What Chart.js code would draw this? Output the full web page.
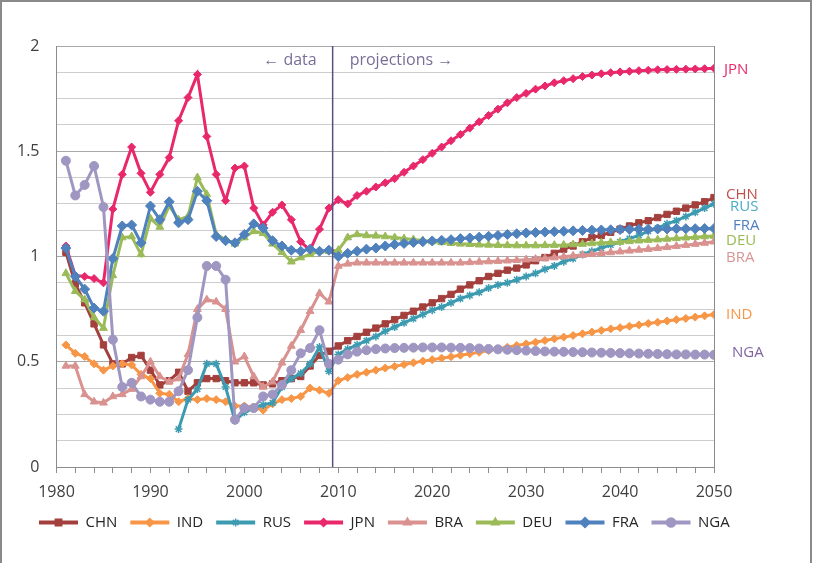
<!DOCTYPE html>
<html>
<head>
<meta charset="utf-8">
<script src="https://cdn.jsdelivr.net/npm/chart.js@4/dist/chart.umd.min.js"></script>
<style>
  body { margin: 0; background: #fff; }
</style>
</head>
<body>
<canvas id="c" width="816" height="563"></canvas>
<script>
// years 1981..2050, data up to 2009, projections after
const years = []
for (let y = 1981; y <= 2050; y++) years.push(y)

const chn = [1.02, 0.87, 0.78, 0.68, 0.58, 0.49, 0.49, 0.52, 0.53, 0.46,
  0.39, 0.41, 0.45, 0.36, 0.40, 0.42, 0.42, 0.41, 0.40, 0.40,
  0.40, 0.39, 0.395, 0.41, 0.42, 0.43, 0.48, 0.53, 0.55,
  0.575, 0.60, 0.62, 0.64, 0.66, 0.68, 0.70, 0.72, 0.74, 0.76,
  0.78, 0.80, 0.82, 0.845, 0.865, 0.885, 0.905, 0.92, 0.935, 0.945,
  0.96, 0.98, 0.995, 1.015, 1.035, 1.05, 1.07, 1.09, 1.10, 1.115,
  1.13, 1.145, 1.16, 1.17, 1.185, 1.20, 1.215, 1.23, 1.245, 1.26, 1.28]

const ind = [0.58, 0.54, 0.525, 0.49, 0.46, 0.48, 0.49, 0.485, 0.44, 0.42,
  0.35, 0.345, 0.31, 0.325, 0.32, 0.325, 0.32, 0.31, 0.29, 0.29,
  0.285, 0.27, 0.30, 0.32, 0.325, 0.335, 0.375, 0.365, 0.35,
  0.41, 0.425, 0.44, 0.45, 0.46, 0.47, 0.478, 0.487, 0.495, 0.503,
  0.51, 0.517, 0.524, 0.531, 0.538, 0.545, 0.553, 0.561, 0.569, 0.577,
  0.585, 0.593, 0.601, 0.609, 0.617, 0.625, 0.633, 0.641, 0.649, 0.656,
  0.662, 0.669, 0.675, 0.682, 0.688, 0.694, 0.70, 0.706, 0.712, 0.718, 0.724]

const rus = [null, null, null, null, null, null, null, null, null, null,
  null, null, 0.18, 0.32, 0.37, 0.49, 0.49, 0.38, 0.22, 0.26,
  0.28, 0.295, 0.305, 0.38, 0.42, 0.445, 0.49, 0.57, 0.455,
  0.535, 0.56, 0.58, 0.60, 0.62, 0.645, 0.665, 0.685, 0.705, 0.725,
  0.745, 0.76, 0.78, 0.80, 0.815, 0.83, 0.85, 0.865, 0.875, 0.89,
  0.905, 0.92, 0.94, 0.955, 0.975, 0.99, 1.01, 1.025, 1.04, 1.055,
  1.07, 1.085, 1.10, 1.12, 1.135, 1.155, 1.17, 1.19, 1.21, 1.23, 1.25]

const jpn = [1.05, 0.91, 0.905, 0.895, 0.875, 1.225, 1.39, 1.52, 1.395, 1.305,
  1.39, 1.47, 1.645, 1.755, 1.865, 1.57, 1.39, 1.265, 1.42, 1.43,
  1.23, 1.15, 1.21, 1.245, 1.175, 1.07, 1.03, 1.13, 1.23,
  1.27, 1.25, 1.29, 1.31, 1.33, 1.35, 1.37, 1.40, 1.43, 1.46,
  1.49, 1.52, 1.55, 1.58, 1.61, 1.64, 1.67, 1.70, 1.73, 1.755,
  1.775, 1.795, 1.81, 1.825, 1.835, 1.845, 1.855, 1.862, 1.868, 1.873,
  1.877, 1.88, 1.883, 1.885, 1.887, 1.888, 1.889, 1.89, 1.891, 1.892, 1.894]

const bra = [0.48, 0.48, 0.345, 0.31, 0.305, 0.335, 0.345, 0.37, 0.43, 0.50,
  0.43, 0.405, 0.42, 0.535, 0.75, 0.795, 0.785, 0.75, 0.50, 0.525,
  0.43, 0.38, 0.405, 0.495, 0.575, 0.65, 0.74, 0.825, 0.785,
  0.955, 0.965, 0.97, 0.97, 0.97, 0.97, 0.97, 0.97, 0.97, 0.97,
  0.97, 0.97, 0.97, 0.97, 0.972, 0.974, 0.976, 0.978, 0.98, 0.982,
  0.985, 0.988, 0.991, 0.995, 0.999, 1.003, 1.007, 1.011, 1.015, 1.019,
  1.023, 1.027, 1.031, 1.035, 1.039, 1.044, 1.049, 1.054, 1.059, 1.064, 1.07]

const deu = [0.92, 0.835, 0.795, 0.71, 0.66, 0.91, 1.09, 1.095, 1.01, 1.18,
  1.14, 1.24, 1.175, 1.19, 1.375, 1.295, 1.105, 1.08, 1.06, 1.09,
  1.12, 1.11, 1.06, 1.02, 0.975, 0.995, 1.01, 1.025, 1.025,
  1.03, 1.09, 1.105, 1.10, 1.098, 1.095, 1.09, 1.085, 1.081, 1.076,
  1.071, 1.067, 1.063, 1.06, 1.058, 1.056, 1.055, 1.054, 1.053, 1.052,
  1.052, 1.052, 1.053, 1.054, 1.055, 1.057, 1.059, 1.062, 1.065, 1.067,
  1.069, 1.072, 1.075, 1.078, 1.08, 1.083, 1.086, 1.089, 1.092, 1.095, 1.097]

const fra = [1.04, 0.905, 0.845, 0.755, 0.74, 0.99, 1.145, 1.15, 1.065, 1.24,
  1.175, 1.26, 1.16, 1.175, 1.31, 1.265, 1.095, 1.075, 1.065, 1.105,
  1.155, 1.135, 1.075, 1.05, 1.03, 1.025, 1.035, 1.025, 1.03,
  1.0, 1.015, 1.025, 1.035, 1.04, 1.05, 1.057, 1.062, 1.067, 1.07,
  1.074, 1.077, 1.08, 1.085, 1.088, 1.092, 1.096, 1.10, 1.105, 1.108,
  1.112, 1.114, 1.116, 1.118, 1.12, 1.122, 1.124, 1.125, 1.126, 1.127,
  1.128, 1.129, 1.13, 1.13, 1.131, 1.131, 1.132, 1.132, 1.132, 1.133, 1.133]

const nga = [1.455, 1.29, 1.34, 1.43, 1.235, 0.605, 0.38, 0.40, 0.335, 0.32,
  0.31, 0.31, 0.36, 0.46, 0.71, 0.955, 0.955, 0.89, 0.225, 0.28,
  0.28, 0.335, 0.345, 0.39, 0.46, 0.54, 0.565, 0.65, 0.49,
  0.51, 0.535, 0.548, 0.555, 0.56, 0.563, 0.565, 0.566, 0.567, 0.568,
  0.568, 0.568, 0.567, 0.566, 0.565, 0.563, 0.561, 0.559, 0.557, 0.555,
  0.553, 0.551, 0.549, 0.548, 0.547, 0.546, 0.545, 0.544, 0.543, 0.542,
  0.541, 0.54, 0.539, 0.538, 0.537, 0.536, 0.535, 0.535, 0.534, 0.534, 0.533]

const names = ['CHN', 'IND', 'RUS', 'JPN', 'BRA', 'DEU', 'FRA', 'NGA']
const series = [chn, ind, rus, jpn, bra, deu, fra, nga]
const lineColors = ['#A3403D', '#F79646', '#3C9BB0', '#E9286C', '#D9928F', '#9BBB59', '#4F81BD', '#A096C2']
const labelColors = ['#C0504D', '#F79646', '#4BACC6', '#E9286C', '#D99694', '#9BBB59', '#4F81BD', '#8064A2']
const markers = ['rect', 'rectRot', 'star', 'rectRot', 'triangle', 'triangle', 'rectRot', 'circle']
const markerSizes = [4.5, 4, 4, 4, 4.5, 4.5, 5, 4.5]
// where the end labels sit on the value axis
const endLabelAt = [1.295, 0.724, 1.237, 1.886, 0.994, 1.073, 1.144, 0.541]
const endLabelDx = [12, 12, 16, 10, 12, 12, 19, 18]

const splitYear = 2009.4

Chart.defaults.font.family = "'Open Sans', sans-serif"

let datasets = names.map((n, k) => ({
    label: n,
    data: series[k].map((v, i) => ({x: years[i], y: v})),
    borderColor: lineColors[k],
    backgroundColor: lineColors[k],
    pointBorderColor: lineColors[k],
    pointBackgroundColor: lineColors[k],
    borderWidth: 3,
    pointStyle: markers[k],
    pointRadius: markerSizes[k],
    pointBorderWidth: markers[k] == 'star' ? 1.5 : 1,
    tension: 0,
    spanGaps: false,
    order: names.length - k
}))

const extras = {
    id: 'extras',
    afterLayout(chart) {
        // legend starts a bit right of the y labels
        chart.legend.left += 13
        chart.legend.right += 13
    },
    beforeDraw(chart) {
        const ctx = chart.ctx
        ctx.save()
        ctx.fillStyle = '#fff'
        ctx.fillRect(0, 0, chart.width, chart.height)
        ctx.strokeStyle = '#8a8a8a'
        ctx.lineWidth = 2
        ctx.strokeRect(1, 1, 810, 620)
        ctx.restore()
    },
    afterDraw(chart) {
        const ctx = chart.ctx
        const a = chart.chartArea
        const xs = chart.scales.x
        const ys = chart.scales.y
        const lx = xs.getPixelForValue(splitYear)
        ctx.save()
        ctx.strokeStyle = '#5E4E80'
        ctx.lineWidth = 1.5
        ctx.beginPath()
        ctx.moveTo(lx, a.top)
        ctx.lineTo(lx, a.bottom)
        ctx.stroke()

        ctx.font = "16px 'Open Sans', sans-serif"
        ctx.fillStyle = '#7A6E98'
        ctx.textBaseline = 'middle'
        ctx.textAlign = 'right'
        ctx.fillText('\u2190 data', lx - 16, a.top + 14)
        ctx.textAlign = 'left'
        ctx.fillText('projections \u2192', lx + 17, a.top + 14)

        // labels at the right end
        ctx.font = "15px 'Open Sans', sans-serif"
        names.forEach((n, k) => {
            ctx.fillStyle = labelColors[k]
            ctx.fillText(n, a.right + endLabelDx[k], ys.getPixelForValue(endLabelAt[k]))
        })

        // markers on the legend lines
        const lg = chart.legend
        lg.legendHitBoxes.forEach((b, i) => {
            const k = lg.legendItems[i].datasetIndex
            ctx.fillStyle = lineColors[k]
            ctx.strokeStyle = lineColors[k]
            Chart.helpers.drawPoint(ctx, {
                pointStyle: markers[k],
                radius: markerSizes[k],
                rotation: 0,
                borderWidth: markers[k] == 'star' ? 1.5 : 1
            }, b.left + 19.5, b.top + b.height / 2)
        })
        ctx.restore()
    }
}

new Chart(document.getElementById('c'), {
    type: 'line',
    data: { datasets: datasets },
    options: {
        responsive: false,
        animation: false,
        layout: { padding: { left: 13, right: 0, top: 46, bottom: 23 } },
        scales: {
            x: {
                type: 'linear',
                min: 1980,
                max: 2050,
                ticks: {
                    stepSize: 2,
                    autoSkip: false,
                    maxRotation: 0,
                    padding: 10,
                    color: '#404040',
                    font: { size: 16 },
                    callback: v => (v % 10 === 0 ? String(v) : '')
                },
                grid: { drawOnChartArea: false, tickLength: 6, color: '#8c8c8c' },
                border: { color: '#8c8c8c' },
                afterFit: s => { s.height = 35 }
            },
            y: {
                min: 0,
                max: 2,
                ticks: {
                    stepSize: 0.125,
                    autoSkip: false,
                    padding: 17,
                    color: '#404040',
                    font: { size: 16 },
                    callback: v => (v % 0.5 === 0 ? String(v) : '')
                },
                grid: {
                    drawTicks: false,
                    color: c => (c.tick && c.tick.value % 0.5 === 0 ? '#a8a8a8' : '#cdcdcd')
                },
                border: { color: '#8c8c8c' },
                afterFit: s => { s.width = 43.5 }
            },
            y2: {
                position: 'right',
                min: 0,
                max: 2,
                grid: { display: false },
                ticks: { display: false },
                border: { display: true, color: '#8c8c8c' },
                afterFit: s => { s.width = 102 }
            }
        },
        plugins: {
            legend: {
                position: 'bottom',
                align: 'start',
                labels: {
                    boxWidth: 39,
                    boxHeight: 4,
                    padding: 13,
                    color: '#262626',
                    font: { size: 15 },
                    sort: (a, b) => a.datasetIndex - b.datasetIndex,
                    generateLabels(chart) {
                        const items = Chart.defaults.plugins.legend.labels.generateLabels(chart)
                        items.forEach(it => { it.lineWidth = 0; it.fillStyle = it.strokeStyle })
                        return items
                    }
                }
            },
            tooltip: { enabled: false }
        }
    },
    plugins: [extras]
})
</script>
</body>
</html>
